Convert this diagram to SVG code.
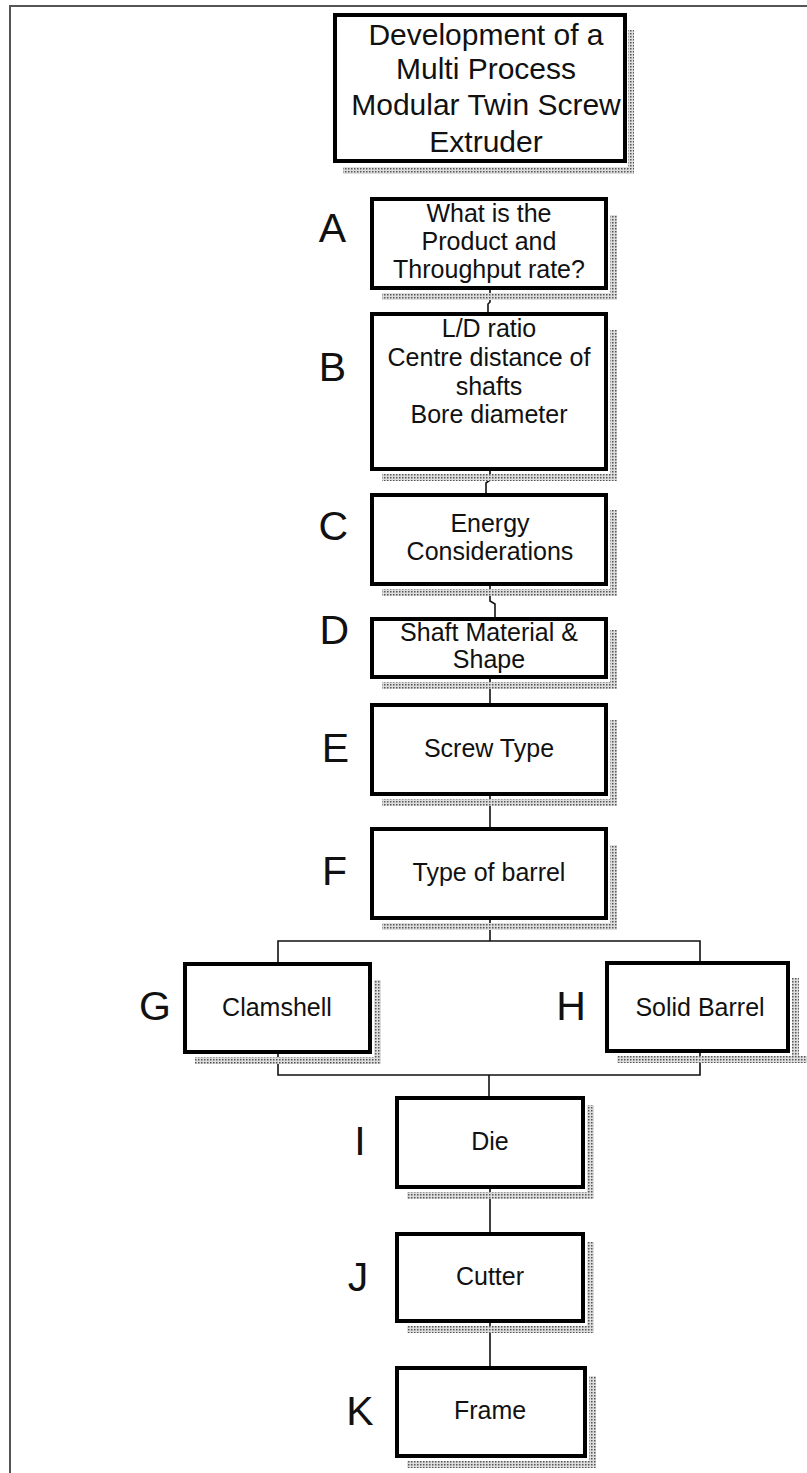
<svg xmlns="http://www.w3.org/2000/svg" width="807" height="1473" viewBox="0 0 807 1473">
<style>
.box{fill:#fff;stroke:#000;stroke-width:4}
.sh{fill:url(#dots)}
.t{font-family:"Liberation Sans",Arial,sans-serif;font-size:25px;fill:#111;text-anchor:middle}
.title{font-family:"Liberation Sans",Arial,sans-serif;font-size:30px;fill:#111;text-anchor:middle}
.lbl{font-family:"Liberation Sans",Arial,sans-serif;font-size:41px;fill:#111}
.c{fill:none;stroke:#111;stroke-width:1.6}
.frame{fill:none;stroke:#555;stroke-width:2}
</style>
<defs>
<pattern id="dots" width="3" height="3" patternUnits="userSpaceOnUse">
<rect width="3" height="3" fill="#ddd"/>
<rect width="1.5" height="1.5" fill="#555"/>
</pattern>
</defs>
<rect width="807" height="1473" fill="#fff"/>
<polyline class="frame" points="10,1473 10,6 807,6"/>

<g id="connectors">
<polyline class="c" points="490,290 490,302 488,304 488,312"/>
<polyline class="c" points="490,471 490,480 486,483 486,493"/>
<polyline class="c" points="490,586 490,601 495,604 495,617"/>
<line class="c" x1="490" y1="679" x2="490" y2="703"/>
<line class="c" x1="490" y1="796" x2="490" y2="827"/>
<polyline class="c" points="490,920 490,941"/>
<polyline class="c" points="278,962 278,941 700,941 700,961"/>
<polyline class="c" points="278,1054 278,1075 700,1075 700,1053"/>
<line class="c" x1="489" y1="1075" x2="489" y2="1096"/>
<line class="c" x1="490" y1="1189" x2="490" y2="1232"/>
<line class="c" x1="490" y1="1323" x2="490" y2="1366"/>
</g>

<g id="node-title">
<rect class="sh" x="343" y="167" width="291" height="7"/>
<rect class="sh" x="628" y="30" width="6" height="144"/>
<rect class="box" x="335" y="15" width="290" height="146"/>
<text class="title" x="486" y="45">Development of a</text>
<text class="title" x="486" y="79">Multi Process</text>
<text class="title" x="486" y="115">Modular Twin Screw</text>
<text class="title" x="486" y="152">Extruder</text>
</g>

<g id="node-A">
<rect class="sh" x="382" y="293" width="235" height="7"/>
<rect class="sh" x="610" y="215" width="7" height="85"/>
<rect class="box" x="372" y="199" width="234" height="89"/>
<text class="t" x="489" y="222">What is the</text>
<text class="t" x="489" y="250">Product and</text>
<text class="t" x="489" y="278">Throughput rate?</text>
<text class="lbl" x="346" y="242" text-anchor="end">A</text>
</g>

<g id="node-B">
<rect class="sh" x="382" y="474" width="235" height="7"/>
<rect class="sh" x="610" y="330" width="7" height="151"/>
<rect class="box" x="372" y="314" width="234" height="155"/>
<text class="t" x="489" y="337">L/D ratio</text>
<text class="t" x="489" y="366">Centre distance of</text>
<text class="t" x="489" y="395">shafts</text>
<text class="t" x="489" y="423">Bore diameter</text>
<text class="lbl" x="346" y="381" text-anchor="end">B</text>
</g>

<g id="node-C">
<rect class="sh" x="382" y="589" width="235" height="7"/>
<rect class="sh" x="610" y="510" width="7" height="86"/>
<rect class="box" x="372" y="495" width="234" height="89"/>
<text class="t" x="490" y="532">Energy</text>
<text class="t" x="490" y="560">Considerations</text>
<text class="lbl" x="348" y="540" text-anchor="end">C</text>
</g>

<g id="node-D">
<rect class="sh" x="382" y="682" width="235" height="7"/>
<rect class="sh" x="610" y="630" width="7" height="59"/>
<rect class="box" x="372" y="619" width="234" height="58"/>
<text class="t" x="489" y="641">Shaft Material &amp;</text>
<text class="t" x="489" y="668">Shape</text>
<text class="lbl" x="349" y="644" text-anchor="end">D</text>
</g>

<g id="node-E">
<rect class="sh" x="382" y="799" width="235" height="7"/>
<rect class="sh" x="610" y="720" width="7" height="86"/>
<rect class="box" x="372" y="705" width="234" height="89"/>
<text class="t" x="489" y="757">Screw Type</text>
<text class="lbl" x="349" y="762" text-anchor="end">E</text>
</g>

<g id="node-F">
<rect class="sh" x="382" y="923" width="235" height="7"/>
<rect class="sh" x="610" y="845" width="7" height="85"/>
<rect class="box" x="372" y="829" width="234" height="89"/>
<text class="t" x="489" y="881">Type of barrel</text>
<text class="lbl" x="347" y="885" text-anchor="end">F</text>
</g>

<g id="node-G">
<rect class="sh" x="195" y="1057" width="186" height="7"/>
<rect class="sh" x="374" y="980" width="7" height="84"/>
<rect class="box" x="185" y="964" width="185" height="88"/>
<text class="t" x="277" y="1016">Clamshell</text>
<text class="lbl" x="155" y="1020" text-anchor="middle">G</text>
</g>

<g id="node-H">
<rect class="sh" x="617" y="1056" width="190" height="7"/>
<rect class="sh" x="792" y="978" width="7" height="85"/>
<rect class="box" x="607" y="963" width="181" height="88"/>
<text class="t" x="700" y="1016">Solid Barrel</text>
<text class="lbl" x="571" y="1020" text-anchor="middle">H</text>
</g>

<g id="node-I">
<rect class="sh" x="407" y="1192" width="187" height="7"/>
<rect class="sh" x="587" y="1105" width="7" height="94"/>
<rect class="box" x="397" y="1098" width="186" height="89"/>
<text class="t" x="490" y="1150">Die</text>
<text class="lbl" x="360" y="1155" text-anchor="middle">I</text>
</g>

<g id="node-J">
<rect class="sh" x="407" y="1326" width="187" height="7"/>
<rect class="sh" x="587" y="1242" width="7" height="91"/>
<rect class="box" x="397" y="1234" width="186" height="87"/>
<text class="t" x="490" y="1285">Cutter</text>
<text class="lbl" x="358" y="1291" text-anchor="middle">J</text>
</g>

<g id="node-K">
<rect class="sh" x="407" y="1461" width="189" height="7"/>
<rect class="sh" x="589" y="1376" width="7" height="92"/>
<rect class="box" x="397" y="1368" width="188" height="88"/>
<text class="t" x="490" y="1419">Frame</text>
<text class="lbl" x="360" y="1425" text-anchor="middle">K</text>
</g>
</svg>
